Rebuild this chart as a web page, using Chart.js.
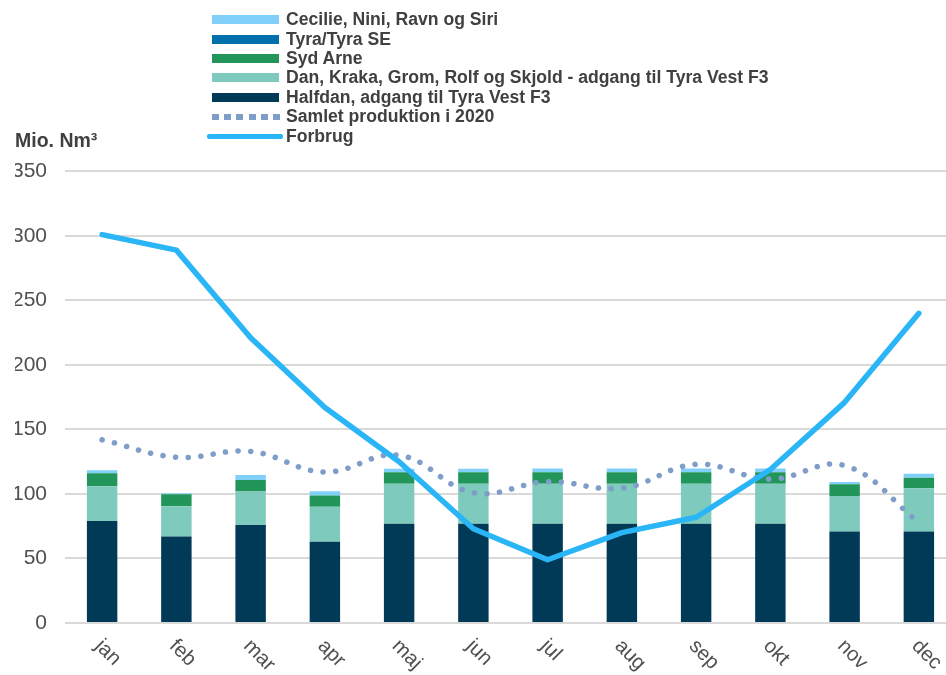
<!DOCTYPE html>
<html>
<head>
<meta charset="utf-8">
<script src="https://cdn.jsdelivr.net/npm/chart.js@4.4.0/dist/chart.umd.min.js"></script>
<style>
  html, body { margin: 0; padding: 0; overflow: hidden; background: #fff; width: 946px; height: 675px; }
  #wrap { position: relative; width: 956px; height: 675px; }
  #legend { position: absolute; left: 212px; top: 10px; font: bold 17.6px "Liberation Sans", Arial, sans-serif; color: #404040; }
  .item { display: flex; align-items: center; height: 19.4px; white-space: nowrap; }
  .sw { flex: none; }
</style>
</head>
<body>
<div id="wrap">
  <canvas id="chart" width="956" height="675"></canvas>
  <div id="legend"></div>
</div>
<script>
// months
const months = ['jan', 'feb', 'mar', 'apr', 'maj', 'jun', 'jul', 'aug', 'sep', 'okt', 'nov', 'dec'];

// production per field, mio. Nm3
const halfdan  = [79, 67, 76, 63, 77, 77, 77, 77, 77, 77, 71, 71];
const danKraka = [27, 23.5, 26, 27, 31, 31, 31, 31, 31, 31, 27.5, 33.5];
const sydArne  = [10, 9.3, 8.8, 8.8, 8.8, 8.8, 8.8, 8.8, 8.8, 8.8, 9, 8];
const tyra     = [0, 0, 0, 0, 0, 0, 0, 0, 0, 0, 0, 0];
const cecilie  = [2.3, 0.8, 4, 3.4, 2.8, 2.8, 2.9, 2.9, 2.9, 2.9, 1.8, 3.1];

// lines
const samlet  = [142, 128.5, 133, 117, 130, 101, 109.5, 104.5, 123, 111.5, 122, 78];
const forbrug = [301, 289, 221, 167, 125, 73, 49, 70, 82, 119, 171, 240];

const yMax = 350;
const yStep = 50;

const font = '"Liberation Sans", Arial, sans-serif';

// month labels are slanted down to the right, so draw them here
const xLabels = {
  id: 'xLabels',
  afterDraw(chart) {
    const ctx = chart.ctx;
    const x = chart.scales.x;
    ctx.save();
    ctx.font = '20.5px ' + font;
    ctx.fillStyle = '#505050';
    ctx.textAlign = 'left';
    ctx.textBaseline = 'middle';
    months.forEach((m, i) => {
      ctx.save();
      ctx.translate(x.getPixelForValue(i) - 4, chart.chartArea.bottom + 20);
      ctx.rotate(Math.PI / 4);
      ctx.fillText(m, 0, 0);
      ctx.restore();
    });
    ctx.restore();
  }
};

const bar = (label, data, color) => ({
  type: 'bar',
  label,
  data,
  backgroundColor: color,
  stack: 'prod',
  barPercentage: 0.41,
  categoryPercentage: 1,
  order: 2
});

const chart = new Chart(document.getElementById('chart'), {
  data: {
    labels: months,
    datasets: [
      bar('Halfdan, adgang til Tyra Vest F3', halfdan, '#003a57'),
      bar('Dan, Kraka, Grom, Rolf og Skjold - adgang til Tyra Vest F3', danKraka, '#7ecbbd'),
      bar('Syd Arne', sydArne, '#22955a'),
      bar('Tyra/Tyra SE', tyra, '#0070ad'),
      bar('Cecilie, Nini, Ravn og Siri', cecilie, '#80d0fa'),
      {
        type: 'line',
        label: 'Samlet produktion i 2020',
        data: samlet,
        stack: 'samlet',
        borderColor: '#7f9dc9',
        borderWidth: 5.5,
        borderDash: [0.1, 12.5],
        borderCapStyle: 'round',
        tension: 0.4,
        pointRadius: 0,
        fill: false,
        order: 1
      },
      {
        type: 'line',
        label: 'Forbrug',
        data: forbrug,
        stack: 'forbrug',
        borderColor: '#29b5f6',
        borderWidth: 5.5,
        borderCapStyle: 'round',
        borderJoinStyle: 'round',
        tension: 0,
        pointRadius: 0,
        fill: false,
        order: 0
      }
    ]
  },
  options: {
    responsive: false,
    animation: false,
    layout: { padding: { left: 15, right: 0, top: 0, bottom: 52 } },
    plugins: {
      legend: { display: false },
      tooltip: { enabled: false },
      title: {
        display: true,
        text: 'Mio. Nm³',
        align: 'start',
        color: '#404040',
        font: { family: font, size: 19.5, weight: 'bold' },
        padding: { top: 130, bottom: 18 }
      }
    },
    scales: {
      x: { display: false, stacked: true },
      y: {
        stacked: true,
        min: 0,
        max: yMax,
        border: { display: false },
        grid: { color: '#d9d9d9', lineWidth: 2, drawTicks: false },
        ticks: {
          stepSize: yStep,
          padding: 18,
          color: '#505050',
          font: { family: font, size: 21 }
        },
        afterFit(scale) { scale.width = 50; }
      }
    }
  },
  plugins: [xLabels]
});

// legend, one entry per line, top of the list = top of the stack
const legendOrder = [4, 3, 2, 1, 0, 5, 6];
const legendEl = document.getElementById('legend');
legendOrder.forEach(i => {
  const ds = chart.data.datasets[i];
  const item = document.createElement('div');
  item.className = 'item';
  const sw = document.createElement('span');
  sw.className = 'sw';
  if (ds.type === 'bar') {
    sw.style.cssText = `width:67px;height:9px;margin-right:7px;background:${ds.backgroundColor}`;
  } else if (ds.borderDash) {
    sw.style.cssText = `width:68px;height:6px;margin-right:6px;background:repeating-linear-gradient(to right, ${ds.borderColor} 0 7px, transparent 7px 12.2px)`;
  } else {
    sw.style.cssText = `width:76px;height:5px;margin-left:-5px;margin-right:3px;border-radius:2px;background:${ds.borderColor}`;
  }
  item.appendChild(sw);
  item.appendChild(document.createTextNode(ds.label));
  legendEl.appendChild(item);
});
</script>
</body>
</html>
